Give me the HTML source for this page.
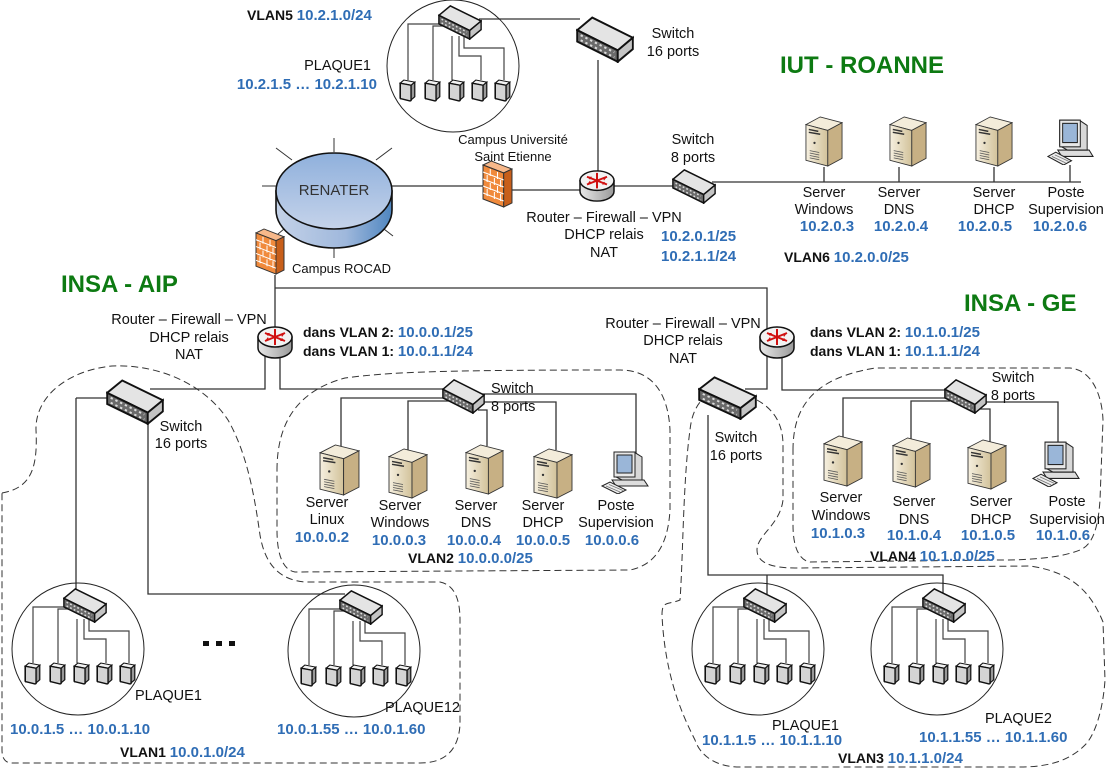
<!DOCTYPE html>
<html><head><meta charset="utf-8"><style>
html,body{margin:0;padding:0;background:#fff;}
svg{display:block;}
text{font-family:"Liberation Sans",Arial,sans-serif;font-size:14.5px;fill:#111;}
.b{font-weight:bold;font-size:15px;fill:#2f6db5;}
.k{font-weight:bold;font-size:14px;fill:#111;}
.g{font-weight:bold;font-size:24px;fill:#0d7a12;}
.s{font-size:13px;}
.m{text-anchor:middle;}
.e{text-anchor:end;}
</style></head><body>
<svg width="1108" height="770" viewBox="0 0 1108 770" xmlns="http://www.w3.org/2000/svg">
<defs>
<linearGradient id="rg" x1="0" x2="1"><stop offset="0" stop-color="#e8e8e8"/><stop offset="1" stop-color="#9a9a9a"/></linearGradient>
<linearGradient id="sg" x1="0" x2="1"><stop offset="0" stop-color="#f6f0e0"/><stop offset="1" stop-color="#d2c29a"/></linearGradient>
<linearGradient id="ren" x1="0" x2="1"><stop offset="0" stop-color="#c4d2e8"/><stop offset="0.6" stop-color="#9fb8dc"/><stop offset="1" stop-color="#4f86c0"/></linearGradient>
<linearGradient id="rtop" x1="0" y1="0" x2="0" y2="1"><stop offset="0" stop-color="#8fb0dc"/><stop offset="1" stop-color="#c5d3ea"/></linearGradient>
<symbol id="sw" viewBox="0 0 50 38" preserveAspectRatio="none">
<polygon points="1,12 14,2 49,18 36,28" fill="#e4e4e4" stroke="#111" stroke-width="1.6"/>
<polygon points="1,12 36,28 36,37 1,21" fill="#6a6a6a" stroke="#111" stroke-width="1.6"/>
<polygon points="36,28 49,18 49,27 36,37" fill="#c4c4c4" stroke="#111" stroke-width="1.6"/>
<path d="M4,16 L33,29.5 M4,20 L33,33.5" stroke="#ddd" stroke-width="1.6" stroke-dasharray="2 2.5"/>
</symbol>
<symbol id="rt" viewBox="0 0 36 36" preserveAspectRatio="none">
<path d="M1,13 V24 A17,10 0 0 0 35,24 V13 Z" fill="url(#rg)" stroke="#111" stroke-width="1.5"/>
<ellipse cx="18" cy="13" rx="17" ry="10" fill="#f2f2f2" stroke="#111" stroke-width="1.5"/>
<path d="M8,9 L28,17 M8,17 L28,9 M18,5 V21" stroke="#d01010" stroke-width="2"/>
<path d="M28,17 l-5,0 l2,-3z M28,9 l-3,4 l-1,-3z M8,9 l5,0 l-2,3z M8,17 l3,-4 l1,3z" fill="#d01010"/>
</symbol>
<symbol id="sv" viewBox="0 0 40 54" preserveAspectRatio="none">
<polygon points="1,10 16,2 39,8 24,16" fill="#f3ecda" stroke="#333" stroke-width="0.9"/>
<polygon points="1,10 24,16 24,53 1,47" fill="url(#sg)" stroke="#333" stroke-width="0.9"/>
<polygon points="24,16 39,8 39,45 24,53" fill="#c7b084" stroke="#333" stroke-width="0.9"/>
<path d="M4,15 L14,17 M4,18 L16,20" stroke="#333" stroke-width="1.5"/>
<circle cx="10" cy="29" r="1.2" fill="#333"/>
<path d="M5,37 L15,39 M5,39.5 L15,41.5 M5,42 L15,44 M5,44.5 L15,46.5" stroke="#555" stroke-width="0.8"/>
</symbol>
<symbol id="pc" viewBox="0 0 50 44" preserveAspectRatio="none">
<polygon points="12,30 44,30 48,36 16,36" fill="#ddd" stroke="#222"/>
<polygon points="14,2 34,2 42,7 42,30 22,30 14,26" fill="#d8d8d8" stroke="#222"/>
<rect x="14" y="2" width="21" height="25" fill="#e8e8e8" stroke="#222"/>
<rect x="17" y="5" width="15" height="18" fill="#9ab6d8" stroke="#222"/>
<polygon points="2,36 10,32 26,40 18,44" fill="#eee" stroke="#222"/>
<path d="M6,36 L20,42 M9,34.5 L23,40.5" stroke="#777" stroke-width="0.8"/>
</symbol>
<symbol id="fw" viewBox="0 0 30 48" preserveAspectRatio="none">
<polygon points="1,5 9,1 29,9 21,13" fill="#f7b88a" stroke="#333"/>
<polygon points="1,5 21,13 21,47 1,39" fill="#f08a3c" stroke="#333"/>
<polygon points="21,13 29,9 29,43 21,47" fill="#c85f1a" stroke="#333"/>
<path d="M1,12 L21,20 M1,19 L21,27 M1,26 L21,34 M1,33 L21,41 M8,9 V16 M15,12 V19 M5,15 V22 M12,18 V25 M18,20 V27 M8,23 V30 M15,26 V33 M5,29 V36 M12,32 V39 M18,34 V41" stroke="#fff" stroke-width="1"/>
</symbol>
<symbol id="dv" viewBox="0 0 14 22" preserveAspectRatio="none">
<polygon points="1,4 4,1 13,3 10,6" fill="#f2f2f2" stroke="#111"/>
<path d="M1,4 L10,6 L10,20 Q10,21 9,21 L2,19 Q1,19 1,18 Z" fill="#d4d4d4" stroke="#111" stroke-width="1.3"/>
<polygon points="10,6 13,3 13,17 10,20" fill="#999" stroke="#111"/>
</symbol>
<g id="plq">
<circle cx="0" cy="0" r="66" fill="none" stroke="#222" stroke-width="1"/>
<path d="M-45,14 V-42 H-10 M-20,14 V-40 H-6 M-1,-30 V14 M6,-30 V-10 H28 V14 M11,-30 V-18 H51 V14" fill="none" stroke="#444" stroke-width="1.2"/>
<use href="#sw" x="-15" y="-62" width="44" height="36"/>
<use href="#dv" x="-54" y="13" width="17" height="23"/>
<use href="#dv" x="-29" y="13" width="17" height="23"/>
<use href="#dv" x="-5" y="13" width="17" height="23"/>
<use href="#dv" x="18" y="13" width="17" height="23"/>
<use href="#dv" x="41" y="13" width="17" height="23"/>
</g>
</defs>

<g fill="none" stroke="#333" stroke-width="1" stroke-dasharray="7 4">
<path d="M2,493 C30,488 38,470 36,430 C35,395 70,370 112,366 C160,364 205,385 228,420 C248,455 255,500 260,535 C265,565 280,580 305,582 L440,582 C455,585 460,600 460,620 L460,725 C458,755 440,763 420,763 L12,763 C5,763 2,758 2,750 Z"/>
<path d="M277,470 C277,420 300,390 345,378 C390,372 440,370 620,370 C650,370 668,390 670,430 L670,510 C668,545 655,565 630,570 L295,572 C283,570 277,555 277,530 Z"/>
<path d="M793,450 C793,405 815,378 875,368 L1070,368 C1092,370 1102,395 1103,420 L1100,500 C1098,530 1092,545 1080,550 C1060,558 1030,560 1000,560 L810,562 C798,560 793,545 793,525 Z"/>
<path d="M757,400 C775,410 783,425 783,445 L783,500 C780,525 757,535 757,550 C757,562 770,568 795,568 L1030,566 C1070,572 1090,590 1103,622 L1105,680 C1103,710 1095,735 1085,745 C1070,760 1050,767 1020,767 L740,767 C715,767 700,755 695,740 C685,720 665,680 662,615 C662,600 668,605 680,600 C683,560 683,480 690,430 C692,410 700,398 715,390"/>
</g>

<g fill="none" stroke="#333" stroke-width="1.3">
<path d="M479,19 H580 M598,60 V172 M392,186 H485 M510,190 H582 M612,186 H676 M712,182 H1081"/>
<path d="M824,167 V182 M899,167 V182 M994,167 V182 M1070,165 V182"/>
<path d="M275,275 V288 H767 V330 M275,288 V330"/>
<path d="M265,355 V389 H150 M280,355 V389 H450 M76,398 H110 M76,398 V592 M148,420 V594 H345"/>
<path d="M341,448 V398 H450 M408,450 V401 H450 M487,446 V410 H478 M556,450 V402 H478 M636,455 V394 H478"/>
<path d="M767,355 V389 H745 M782,355 V390 H950 M708,415 V575 H943 V594 M767,575 V594"/>
<path d="M843,438 V398 H950 M911,440 V401 H950 M990,442 V409 H980 M1058,452 V402 H980"/>
</g>

<g stroke="#333" stroke-width="1">
<path d="M334,138 V152 M262,186 H276 M276,148 L292,160 M392,148 L376,160 M393,236 L380,226 M334,246 V258 M278,234 L290,224"/>
</g>
<path d="M276,191 V210 A58,38 0 0 0 392,210 V191 Z" fill="url(#ren)" stroke="#111" stroke-width="1.6"/>
<ellipse cx="334" cy="191" rx="58" ry="38" fill="url(#rtop)" stroke="#111" stroke-width="1.6"/>
<text x="334" y="195" class="m" style="font-size:15px;fill:#333">RENATER</text>

<use href="#plq" x="453" y="66"/>
<use href="#plq" x="78" y="649"/>
<use href="#plq" x="354" y="651"/>
<use href="#plq" x="758" y="649"/>
<use href="#plq" x="937" y="649"/>

<use href="#sw" x="576" y="15" width="58" height="48"/>
<use href="#sw" x="672" y="168" width="44" height="36"/>
<use href="#sw" x="106" y="378" width="58" height="47"/>
<use href="#sw" x="442" y="378" width="43" height="36"/>
<use href="#sw" x="698" y="375" width="59" height="45"/>
<use href="#sw" x="944" y="378" width="43" height="36"/>

<use href="#rt" x="579" y="168" width="36" height="35"/>
<use href="#rt" x="257" y="324" width="36" height="36"/>
<use href="#rt" x="759" y="324" width="36" height="36"/>

<use href="#fw" x="482" y="160" width="31" height="48"/>
<use href="#fw" x="255" y="228" width="30" height="47"/>

<use href="#sv" x="805" y="115" width="38" height="52"/>
<use href="#sv" x="889" y="115" width="38" height="52"/>
<use href="#sv" x="975" y="115" width="38" height="52"/>
<use href="#pc" x="1046" y="118" width="49" height="47"/>
<use href="#sv" x="319" y="443" width="41" height="53"/>
<use href="#sv" x="388" y="447" width="40" height="52"/>
<use href="#sv" x="465" y="443" width="39" height="52"/>
<use href="#sv" x="533" y="447" width="40" height="52"/>
<use href="#pc" x="600" y="450" width="50" height="44"/>
<use href="#sv" x="823" y="434" width="40" height="53"/>
<use href="#sv" x="892" y="436" width="39" height="52"/>
<use href="#sv" x="967" y="438" width="40" height="52"/>
<use href="#pc" x="1031" y="440" width="50" height="47"/>

<rect x="203" y="641" width="6" height="5" fill="#111"/>
<rect x="216" y="641" width="6" height="5" fill="#111"/>
<rect x="229" y="641" width="6" height="5" fill="#111"/>

<text x="247" y="20"><tspan class="k">VLAN5 </tspan><tspan class="b">10.2.1.0/24</tspan></text>
<text x="371" y="70" class="e">PLAQUE1</text>
<text x="377" y="89" class="b e">10.2.1.5 … 10.2.1.10</text>
<text x="673" y="38" class="m">Switch</text>
<text x="673" y="56" class="m">16 ports</text>
<text x="780" y="73" class="g">IUT - ROANNE</text>
<text x="513" y="144" class="m s">Campus Université</text>
<text x="513" y="161" class="m s">Saint Etienne</text>
<text x="292" y="273" class="s">Campus ROCAD</text>
<text x="693" y="144" class="m">Switch</text>
<text x="693" y="162" class="m">8 ports</text>
<text x="604" y="222" class="m">Router – Firewall – VPN</text>
<text x="604" y="239" class="m">DHCP relais</text>
<text x="604" y="257" class="m">NAT</text>
<text x="661" y="241" class="b">10.2.0.1/25</text>
<text x="661" y="261" class="b">10.2.1.1/24</text>
<text x="824" y="197" class="m">Server</text><text x="824" y="214" class="m">Windows</text><text x="827" y="231" class="b m">10.2.0.3</text>
<text x="899" y="197" class="m">Server</text><text x="899" y="214" class="m">DNS</text><text x="901" y="231" class="b m">10.2.0.4</text>
<text x="994" y="197" class="m">Server</text><text x="994" y="214" class="m">DHCP</text><text x="985" y="231" class="b m">10.2.0.5</text>
<text x="1066" y="197" class="m">Poste</text><text x="1066" y="214" class="m">Supervision</text><text x="1060" y="231" class="b m">10.2.0.6</text>
<text x="784" y="262"><tspan class="k">VLAN6 </tspan><tspan class="b">10.2.0.0/25</tspan></text>

<text x="61" y="292" class="g">INSA - AIP</text>
<text x="189" y="324" class="m">Router – Firewall – VPN</text>
<text x="189" y="342" class="m">DHCP relais</text>
<text x="189" y="359" class="m">NAT</text>
<text x="303" y="337"><tspan class="k">dans VLAN 2: </tspan><tspan class="b">10.0.0.1/25</tspan></text>
<text x="303" y="356"><tspan class="k">dans VLAN 1: </tspan><tspan class="b">10.0.1.1/24</tspan></text>
<text x="181" y="431" class="m">Switch</text>
<text x="181" y="448" class="m">16 ports</text>
<text x="491" y="393">Switch</text>
<text x="491" y="411">8 ports</text>
<text x="327" y="507" class="m">Server</text><text x="327" y="524" class="m">Linux</text><text x="322" y="542" class="b m">10.0.0.2</text>
<text x="400" y="510" class="m">Server</text><text x="400" y="527" class="m">Windows</text><text x="399" y="545" class="b m">10.0.0.3</text>
<text x="476" y="510" class="m">Server</text><text x="476" y="527" class="m">DNS</text><text x="474" y="545" class="b m">10.0.0.4</text>
<text x="543" y="510" class="m">Server</text><text x="543" y="527" class="m">DHCP</text><text x="543" y="545" class="b m">10.0.0.5</text>
<text x="616" y="510" class="m">Poste</text><text x="616" y="527" class="m">Supervision</text><text x="612" y="545" class="b m">10.0.0.6</text>
<text x="408" y="563"><tspan class="k">VLAN2 </tspan><tspan class="b">10.0.0.0/25</tspan></text>
<text x="135" y="700">PLAQUE1</text>
<text x="385" y="712">PLAQUE12</text>
<text x="10" y="734" class="b">10.0.1.5 … 10.0.1.10</text>
<text x="277" y="734" class="b">10.0.1.55 … 10.0.1.60</text>
<text x="120" y="757"><tspan class="k">VLAN1 </tspan><tspan class="b">10.0.1.0/24</tspan></text>

<text x="964" y="311" class="g">INSA - GE</text>
<text x="683" y="328" class="m">Router – Firewall – VPN</text>
<text x="683" y="345" class="m">DHCP relais</text>
<text x="683" y="363" class="m">NAT</text>
<text x="810" y="337"><tspan class="k">dans VLAN 2: </tspan><tspan class="b">10.1.0.1/25</tspan></text>
<text x="810" y="356"><tspan class="k">dans VLAN 1: </tspan><tspan class="b">10.1.1.1/24</tspan></text>
<text x="736" y="442" class="m">Switch</text>
<text x="736" y="460" class="m">16 ports</text>
<text x="1013" y="382" class="m">Switch</text>
<text x="1013" y="400" class="m">8 ports</text>
<text x="841" y="502" class="m">Server</text><text x="841" y="520" class="m">Windows</text><text x="838" y="538" class="b m">10.1.0.3</text>
<text x="914" y="506" class="m">Server</text><text x="914" y="524" class="m">DNS</text><text x="914" y="540" class="b m">10.1.0.4</text>
<text x="991" y="506" class="m">Server</text><text x="991" y="524" class="m">DHCP</text><text x="988" y="540" class="b m">10.1.0.5</text>
<text x="1067" y="506" class="m">Poste</text><text x="1067" y="524" class="m">Supervision</text><text x="1063" y="540" class="b m">10.1.0.6</text>
<text x="870" y="561"><tspan class="k">VLAN4 </tspan><tspan class="b">10.1.0.0/25</tspan></text>
<text x="772" y="730">PLAQUE1</text>
<text x="702" y="745" class="b">10.1.1.5 … 10.1.1.10</text>
<text x="985" y="723">PLAQUE2</text>
<text x="919" y="742" class="b">10.1.1.55 … 10.1.1.60</text>
<text x="838" y="763"><tspan class="k">VLAN3 </tspan><tspan class="b">10.1.1.0/24</tspan></text>
</svg>
</body></html>
